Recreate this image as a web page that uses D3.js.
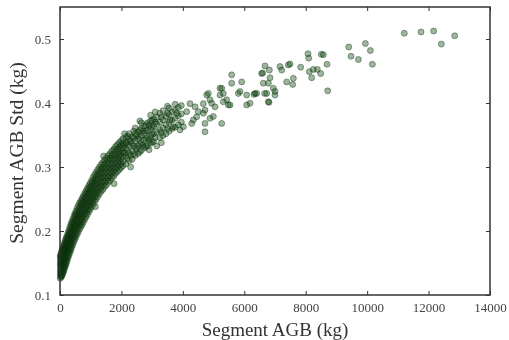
<!DOCTYPE html>
<html>
<head>
<meta charset="utf-8">
<script src="https://cdn.jsdelivr.net/npm/d3@7"></script>
<style>
  body { margin: 0; background: #fff; }
  text { font-family: "Liberation Serif", "DejaVu Serif", serif; }
</style>
</head>
<body>
<figure id="scatter" style="margin:0"></figure>
<script>
// tick labels
const xTicks = [0, 2000, 4000, 6000, 8000, 10000, 12000, 14000];
const yTicks = [0.1, 0.2, 0.3, 0.4, 0.5];

// dense band, one row per segment size: [agb, std, std, ...]
const denseRows = [
  [10, .126, .132, .138, .145, .150, .157, .162],
  [22, .129, .135, .141, .148, .154, .160],
  [35, .128, .134, .141, .147, .153, .160, .166],
  [48, .131, .138, .144, .150, .157, .163],
  [60, .130, .137, .143, .150, .156, .163, .169],
  [75, .132, .139, .145, .151, .158, .164, .171],
  [90, .134, .140, .147, .153, .159, .166, .173],
  [108, .136, .142, .149, .155, .162, .168, .175],
  [125, .138, .145, .151, .157, .164, .170, .178],
  [145, .141, .147, .154, .160, .167, .173, .181],
  [165, .144, .150, .157, .163, .170, .177, .184],
  [188, .147, .154, .160, .167, .173, .180, .187],
  [210, .150, .157, .163, .170, .176, .183, .190],
  [235, .154, .160, .167, .173, .180, .187, .193],
  [260, .158, .164, .171, .177, .184, .190, .197],
  [290, .162, .168, .175, .182, .188, .195, .201],
  [320, .166, .172, .179, .186, .192, .199, .206],
  [350, .170, .176, .183, .190, .196, .203, .210],
  [380, .174, .180, .187, .194, .200, .207, .214],
  [415, .178, .185, .191, .198, .205, .212, .218],
  [450, .183, .189, .196, .203, .210, .216, .223],
  [485, .187, .193, .200, .207, .214, .221, .227],
  [520, .191, .197, .204, .211, .218, .225, .231],
  [560, .195, .202, .208, .215, .222, .229, .236],
  [600, .199, .206, .212, .219, .226, .233, .240],
  [640, .203, .210, .216, .223, .230, .237, .244],
  [680, .207, .213, .220, .227, .234, .241, .247],
  [720, .210, .217, .224, .231, .238, .245, .251],
  [760, .214, .221, .228, .235, .242, .249, .255],
  [805, .218, .225, .232, .239, .246, .253, .259],
  [850, .222, .229, .236, .243, .250, .257, .263],
  [895, .226, .233, .240, .247, .254, .261, .267],
  [940, .230, .237, .244, .251, .258, .265, .271],
  [985, .234, .241, .248, .255, .262, .269, .275],
  [1030, .238, .245, .252, .259, .266, .273, .279],
  [1080, .242, .249, .256, .263, .270, .277, .284],
  [1130, .246, .253, .260, .267, .274, .281, .288],
  [1180, .250, .257, .264, .271, .278, .285, .292],
  [1230, .254, .261, .268, .275, .282, .289, .296],
  [1285, .258, .265, .272, .279, .286, .293, .300],
  [1340, .262, .269, .276, .283, .290, .297, .304],
  [1395, .265, .272, .279, .286, .293, .300, .307],
  [1450, .269, .276, .283, .290, .297, .304, .311],
  [1510, .272, .279, .286, .293, .300, .307, .314],
  [1570, .276, .283, .290, .297, .304, .311, .318],
  [1630, .279, .286, .293, .300, .307, .314, .321],
  [1690, .283, .290, .297, .304, .311, .318, .325],
  [1750, .286, .293, .300, .307, .314, .321, .328],
  [1810, .290, .297, .304, .311, .318, .325, .332],
  [1870, .293, .300, .307, .314, .321, .328, .335],
  [1930, .296, .303, .310, .317, .324, .331, .338],
  [1990, .299, .306, .313, .320, .327, .334, .341],
  [2050, .302, .309, .316, .323, .330, .337, .344],
  [2100, .322, .334],
  [2150, .305, .318, .329, .338, .347],
  [2200, .314, .326, .338, .348],
  [2250, .310, .322, .334, .343, .352],
  [2300, .318, .340],
  [2350, .312, .325, .336, .347],
  [2400, .320, .333, .345, .356],
  [2450, .318, .330, .341, .352, .361],
  [2500, .328, .350],
  [2550, .321, .333, .344, .355],
  [2600, .324, .336, .347, .358],
  [2650, .326, .337, .349, .360, .369],
  [2700, .334, .356],
  [2750, .330, .342, .353, .364],
  [2800, .332, .344, .356, .366],
  [2850, .333, .346, .357, .369],
  [2900, .342, .365],
  [2950, .337, .349, .360, .372, .381],
  [3000, .339, .351, .362, .373],
  [3050, .340, .352, .364, .375],
  [3100, .346, .370],
  [3150, .333, .355, .367, .378],
  [3250, .346, .358, .370, .384],
  [3300, .354, .378],
  [3350, .349, .361, .374, .388],
  [3450, .352, .366, .379],
  [3500, .360, .384],
  [3550, .356, .370, .382, .392],
  [3650, .360, .373, .386],
  [3750, .362, .376, .389, .398],
  [3850, .366, .380, .393],
  [3950, .370, .383, .396]
];

// scattered points, [agb, std]
const sparsePoints = [
  [1150, .238], [1420, .317], [1760, .274], [2100, .352], [2300, .300],
  [2600, .372], [2900, .327], [3100, .386], [3300, .338], [3500, .395],
  [3582, .3735], [3690, .363], [3800, .384], [3908, .358],
  [4016, .363], [4125, .3865], [4233, .399], [4288, .368], [4341, .3735],
  [4396, .394], [4451, .3785], [4503, .3865], [4666, .384], [4666, .399],
  [4721, .355], [4721, .368], [4721, .389], [4775, .4125], [4829, .415],
  [4884, .376], [4884, .405], [4938, .3995], [4992, .379], [5047, .394],
  [5210, .423], [5210, .4125], [5265, .368], [5265, .423], [5318, .402],
  [5318, .415], [5427, .405], [5481, .397], [5535, .397], [5590, .444],
  [5590, .431], [5807, .415], [5861, .418], [5916, .433], [6078, .4125],
  [6078, .397], [6187, .3995], [6317, .4135], [6350, .415], [6404, .415],
  [6566, .446], [6600, .447], [6620, .431], [6664, .415], [6675, .458],
  [6729, .415], [6784, .431], [6784, .402], [6805, .401], [6816, .4515],
  [6838, .4395], [6946, .423], [7000, .4125], [7000, .418], [7163, .457],
  [7218, .4515], [7380, .433], [7434, .4595], [7488, .461], [7576, .429],
  [7597, .4385], [7836, .456], [8075, .477], [8097, .470], [8117, .449],
  [8195, .4395], [8247, .4525], [8378, .4525], [8488, .446], [8509, .476],
  [8574, .4755], [8694, .4605], [8716, .419], [9400, .4875], [9475, .473],
  [9714, .468], [9942, .493], [10105, .482], [10170, .4605], [11210, .509],
  [11755, .511], [12166, .5125], [12416, .492], [12850, .505]
];

const margin = {top: 7, right: 19, bottom: 45, left: 60};
const width = 509 - margin.left - margin.right;
const height = 340 - margin.top - margin.bottom;

const points = [];
denseRows.forEach(r => r.slice(1).forEach(s => points.push([r[0], s])));
sparsePoints.forEach(p => points.push(p));

const root = d3.select("figure#scatter")
  .append("svg")
  .attr("width", 509)
  .attr("height", 340);

// the source image is a soft, slightly blurred scan
root.append("defs").append("filter")
  .attr("id", "soft")
  .append("feGaussianBlur")
  .attr("stdDeviation", 0.7);

const svg = root.append("g")
  .attr("filter", "url(#soft)")
  .append("g")
  .attr("transform", "translate(" + margin.left + "," + margin.top + ")");

const x = d3.scaleLinear().domain([0, 14000]).range([0, width]);
const y = d3.scaleLinear().domain([0.1, 0.55]).range([height, 0]);

// points
svg.selectAll("circle")
  .data(points)
  .enter()
  .append("circle")
    .attr("cx", d => x(d[0]))
    .attr("cy", d => y(d[1]))
    .attr("r", 3)
    .attr("fill", "#0a3d0a")
    .attr("fill-opacity", 0.38)
    .attr("stroke", "#0a300a")
    .attr("stroke-opacity", 0.5)
    .attr("stroke-width", 0.8);

// axes, ticks pointing inward on all sides
const styleAxis = g => {
  g.select(".domain").remove();
  g.selectAll(".tick line").attr("stroke", "#333");
  g.selectAll(".tick text").attr("fill", "#444").style("font-size", "13px");
};
svg.append("g")
  .attr("transform", "translate(0," + height + ")")
  .call(d3.axisBottom(x).tickValues(xTicks).tickFormat(d3.format("d")).tickSizeInner(-4).tickPadding(8))
  .call(styleAxis);
svg.append("g")
  .call(d3.axisTop(x).tickValues(xTicks).tickFormat("").tickSizeInner(-4))
  .call(styleAxis);
svg.append("g")
  .call(d3.axisLeft(y).tickValues(yTicks).tickFormat(d3.format(".1f")).tickSizeInner(-4).tickPadding(9))
  .call(styleAxis);
svg.append("g")
  .attr("transform", "translate(" + width + ",0)")
  .call(d3.axisRight(y).tickValues(yTicks).tickFormat("").tickSizeInner(-4))
  .call(styleAxis);

// frame
svg.append("rect")
  .attr("width", width)
  .attr("height", height)
  .attr("fill", "none")
  .attr("stroke", "#333")
  .attr("stroke-width", 1.5);

// labels
svg.append("text")
  .attr("x", width / 2)
  .attr("y", height + 41)
  .attr("text-anchor", "middle")
  .attr("fill", "#333")
  .style("font-size", "19px")
  .text("Segment AGB (kg)");
svg.append("text")
  .attr("transform", "translate(" + (-37) + "," + (height / 2 + 2) + ")rotate(-90)")
  .attr("text-anchor", "middle")
  .attr("fill", "#333")
  .style("font-size", "19.5px")
  .text("Segment AGB Std (kg)");
</script>
</body>
</html>
